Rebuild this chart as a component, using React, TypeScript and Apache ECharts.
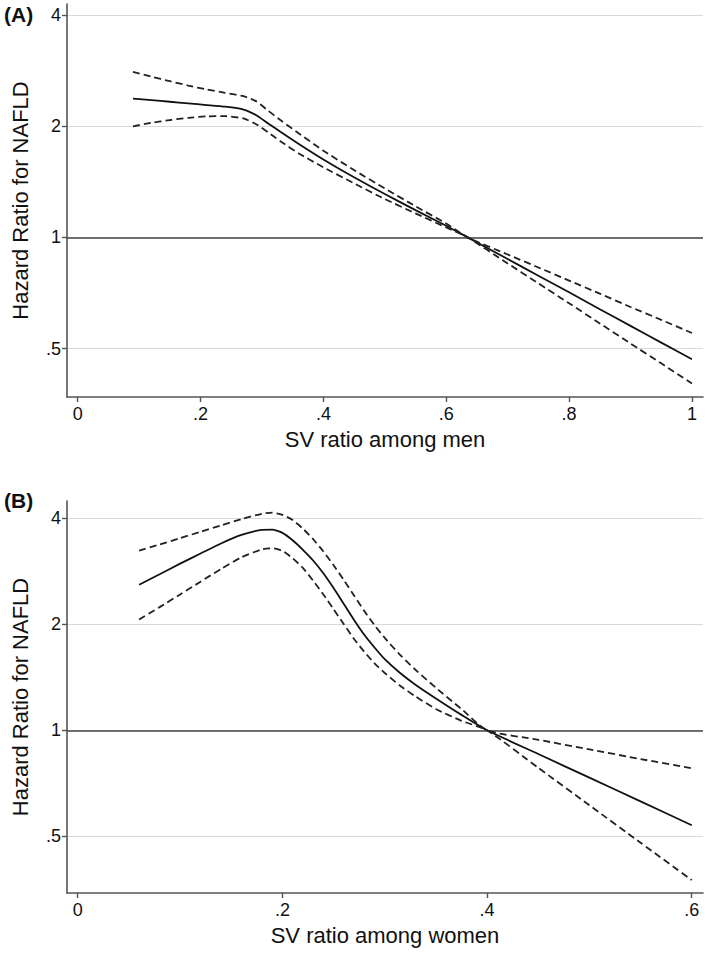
import React, { useEffect, useRef } from "react";
import * as echarts from "echarts";

// ---- Panel A: men ----
const xMen = [0.09, 0.12, 0.15, 0.18, 0.21, 0.24, 0.27, 0.29, 0.31, 0.33, 0.36, 0.4, 0.45, 0.5, 0.55, 0.6, 0.635, 0.7, 0.75, 0.8, 0.85, 0.9, 0.95, 1.0];
const hrMen = [2.375, 2.352, 2.329, 2.305, 2.282, 2.258, 2.219, 2.144, 2.035, 1.932, 1.79, 1.625, 1.454, 1.31, 1.185, 1.075, 1.0, 0.874, 0.787, 0.71, 0.639, 0.576, 0.519, 0.468];
const upperMen = [2.805, 2.723, 2.648, 2.576, 2.514, 2.462, 2.411, 2.338, 2.204, 2.078, 1.912, 1.717, 1.521, 1.357, 1.214, 1.09, 1.0, 0.899, 0.829, 0.764, 0.704, 0.648, 0.598, 0.551];
const lowerMen = [1.999, 2.042, 2.078, 2.107, 2.126, 2.129, 2.099, 2.028, 1.925, 1.821, 1.688, 1.548, 1.4, 1.27, 1.161, 1.064, 1.0, 0.85, 0.751, 0.663, 0.585, 0.516, 0.456, 0.402];

// ---- Panel B: women ----
const xWomen = [0.06, 0.08, 0.1, 0.12, 0.14, 0.16, 0.18, 0.19, 0.2, 0.21, 0.22, 0.23, 0.24, 0.25, 0.26, 0.27, 0.28, 0.29, 0.3, 0.315, 0.33, 0.35, 0.375, 0.4, 0.45, 0.5, 0.55, 0.6];
const hrWomen = [2.587, 2.77, 2.969, 3.171, 3.387, 3.58, 3.701, 3.706, 3.63, 3.458, 3.249, 3.031, 2.789, 2.532, 2.282, 2.056, 1.866, 1.717, 1.591, 1.454, 1.347, 1.231, 1.106, 1.0, 0.857, 0.734, 0.629, 0.538];
const upperWomen = [3.233, 3.364, 3.507, 3.655, 3.811, 3.972, 4.112, 4.141, 4.084, 3.945, 3.732, 3.482, 3.215, 2.938, 2.667, 2.411, 2.181, 1.986, 1.828, 1.636, 1.485, 1.32, 1.149, 1.0, 0.94, 0.883, 0.829, 0.781];
const lowerWomen = [2.062, 2.235, 2.428, 2.639, 2.868, 3.095, 3.26, 3.283, 3.227, 3.074, 2.888, 2.657, 2.428, 2.204, 2.0, 1.815, 1.67, 1.548, 1.454, 1.338, 1.248, 1.149, 1.064, 1.0, 0.783, 0.613, 0.48, 0.376];

// ---- Axes / texts ----
const yTicks = [0.5, 1, 2, 4];
const xTicksMen = [0, 0.2, 0.4, 0.6, 0.8, 1];
const xTicksWomen = [0, 0.2, 0.4, 0.6];
const panelLabels = ["(A)", "(B)"];
const xTitles = ["SV ratio among men", "SV ratio among women"];
const yTitle = "Hazard Ratio for NAFLD";
const refValue = 1;

const FONT = "'Liberation Sans', Arial, Helvetica, sans-serif";
const AXIS_COLOR = "#555555";
const TEXT_COLOR = "#111111";

function fmt(v: number): string {
  const s = String(Math.round(v * 1000) / 1000);
  return s.startsWith("0.") ? s.slice(1) : s;
}

function pairs(xs: number[], ys: number[]) {
  return xs.map((x, i) => [x, ys[i]]);
}

export default function App() {
  const ref = useRef<HTMLDivElement>(null);

  useEffect(() => {
    if (!ref.current) return;
    const chart = echarts.init(ref.current, null, { renderer: "svg" });

    const panels = [
      { x: xMen, hr: hrMen, up: upperMen, lo: lowerMen, xTicks: xTicksMen, xMin: -0.0174, xMax: 1.018, yMin: 0.3697, yMax: 4.284, top: 4, height: 393, labelTop: 4 },
      { x: xWomen, hr: hrWomen, up: upperWomen, lo: lowerWomen, xTicks: xTicksWomen, xMin: -0.0105, xMax: 0.611, yMin: 0.3457, yMax: 4.469, top: 501, height: 392, labelTop: 490 },
    ];

    const labelStyle = { fontSize: 18, color: TEXT_COLOR, fontFamily: FONT };
    const titleStyle = { fontSize: 22, color: TEXT_COLOR, fontFamily: FONT };

    const series: any[] = [];
    panels.forEach((p, i) => {
      const solidStyle = { color: "#111", width: 1.8, type: "solid" as const };
      const dashStyle = { color: "#222", width: 1.8, type: [7, 4] as any };
      series.push({
        type: "line",
        xAxisIndex: i,
        yAxisIndex: i,
        data: pairs(p.x, p.hr),
        symbol: "none",
        smooth: 0.2,
        lineStyle: solidStyle,
        itemStyle: { color: "#111" },
        silent: true,
        z: 3,
        markLine: {
          silent: true,
          symbol: ["none", "none"],
          label: { show: false },
          lineStyle: { color: "#444", width: 1.6, type: "solid" },
          data: [{ yAxis: refValue }],
          z: 1,
        },
      });
      series.push({
        type: "line",
        xAxisIndex: i,
        yAxisIndex: i,
        data: pairs(p.x, p.up),
        symbol: "none",
        smooth: 0.2,
        lineStyle: dashStyle,
        itemStyle: { color: "#222" },
        silent: true,
        z: 3,
      });
      series.push({
        type: "line",
        xAxisIndex: i,
        yAxisIndex: i,
        data: pairs(p.x, p.lo),
        symbol: "none",
        smooth: 0.2,
        lineStyle: dashStyle,
        itemStyle: { color: "#222" },
        silent: true,
        z: 3,
      });
    });

    chart.setOption({
      animation: false,
      backgroundColor: "#ffffff",
      textStyle: { fontFamily: FONT },
      grid: panels.map((p) => ({ left: 67, top: p.top, width: 636, height: p.height, containLabel: false })),
      xAxis: panels.map((p, i) => ({
        type: "value",
        gridIndex: i,
        min: p.xMin,
        max: p.xMax,
        axisLine: { show: true, onZero: false, lineStyle: { color: AXIS_COLOR, width: 1.6 } },
        axisTick: { show: true, inside: false, length: 5, customValues: p.xTicks, lineStyle: { color: AXIS_COLOR, width: 1.4 } },
        axisLabel: { show: true, customValues: p.xTicks, formatter: (v: number) => fmt(v), margin: 8, ...labelStyle },
        splitLine: { show: false },
        name: xTitles[i],
        nameLocation: "middle",
        nameGap: 31,
        nameTextStyle: titleStyle,
      })),
      yAxis: panels.map((p, i) => ({
        type: "log",
        logBase: 2,
        gridIndex: i,
        min: p.yMin,
        max: p.yMax,
        axisLine: { show: true, onZero: false, lineStyle: { color: AXIS_COLOR, width: 1.6 } },
        axisTick: { show: true, inside: false, length: 5, customValues: yTicks, lineStyle: { color: AXIS_COLOR, width: 1.4 } },
        axisLabel: { show: true, customValues: yTicks, formatter: (v: number) => fmt(v), margin: 6, ...labelStyle },
        splitLine: { show: true, lineStyle: { color: "#d9d9d9", width: 1 } },
        name: yTitle,
        nameLocation: "middle",
        nameGap: 36,
        nameRotate: 90,
        nameTextStyle: titleStyle,
      })),
      graphic: panels.map((p, i) => ({
        type: "text",
        left: 4,
        top: p.labelTop,
        style: { text: panelLabels[i], fontSize: 21, fontWeight: "bold", fill: "#111", fontFamily: FONT },
      })),
      series,
    });

    return () => chart.dispose();
  }, []);

  return <div ref={ref} style={{ position: "absolute", left: 0, top: 0, width: 709, height: 958 }} />;
}
